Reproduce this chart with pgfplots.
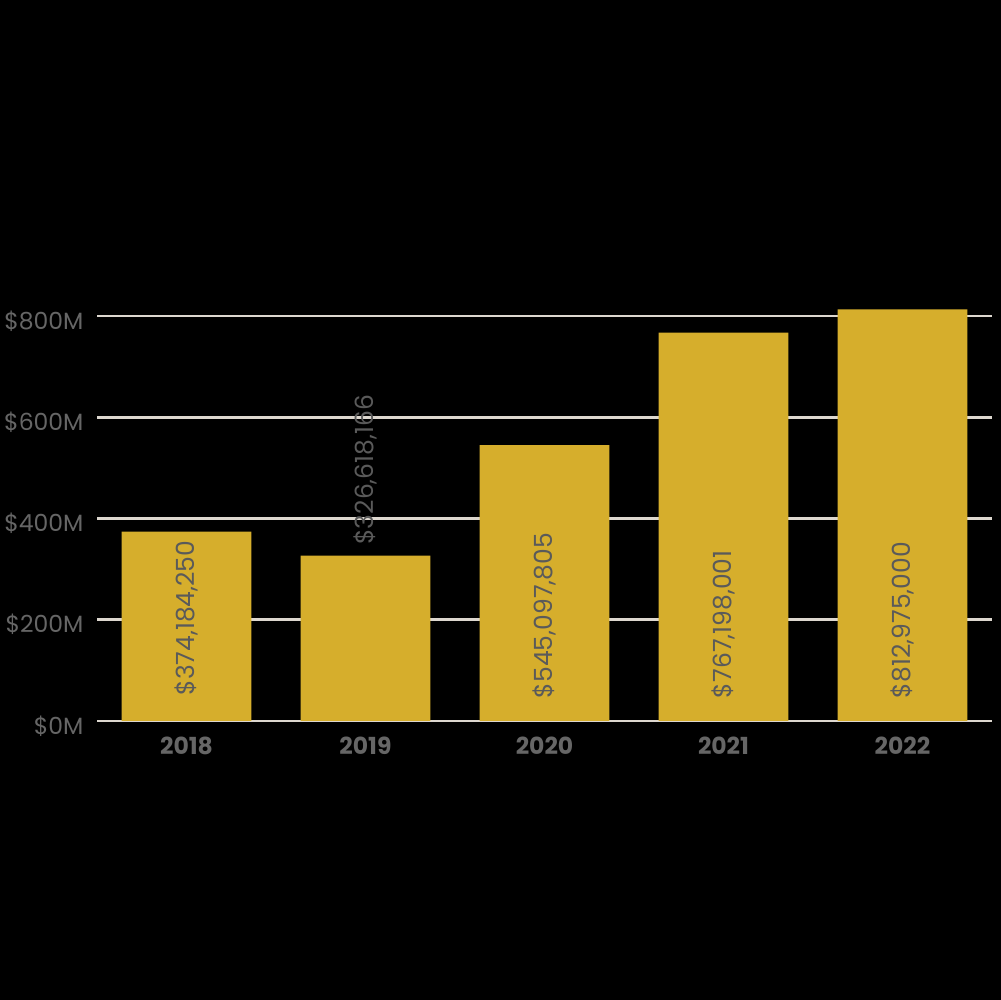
\documentclass[border=0pt]{standalone}
\usepackage{fontspec}
\setmainfont{Poppins}
\usepackage{pgfplots}
\pgfplotsset{compat=1.18}
\definecolor{gold}{HTML}{D6AE2C}
\definecolor{gridc}{HTML}{DDD7CF}
\definecolor{lbl}{HTML}{666666}
\definecolor{barlbl}{HTML}{5A5A5A}
\begin{document}
\begin{tikzpicture}[x=1pt,y=1pt]
\fill[black] (0,0) rectangle (1001,1000);
\useasboundingbox (0,0) rectangle (1001,1000);
\begin{axis}[at={(97pt,279pt)}, anchor=south west, scale only axis,
  width=895pt, height=405pt,
  xmin=-0.5, xmax=4.5, ymin=0, ymax=800, clip=false,
  axis line style={draw=none}, tick style={draw=none},
  ytick={0,200,400,600,800},
  yticklabel={\$\pgfmathprintnumber{\tick}M},
  /pgf/number format/assume math mode=true,
  ymajorgrids, grid style={gridc, line width=2.6pt},
  xtick={0,1,2,3,4}, xticklabels={2018,2019,2020,2021,2022},
  yticklabel style={font=\fontsize{23.5}{26}\selectfont, color=lbl, xshift=-10pt, yshift=-5pt},
  xticklabel style={font=\fontsize{23.5}{26}\selectfont\bfseries, color=lbl, yshift=-12pt},
]
\addplot[ybar, bar width=0.726, fill=gold, draw=none] coordinates {(0,374.184)(1,326.618)(2,545.098)(3,767.198)(4,812.975)};
\begin{scope}[every node/.style={rotate=90, anchor=west, inner sep=0pt, font=\fontsize{25}{28}\selectfont, text=barlbl}]
\node at (axis cs:0,50) {\$374,184,250};
\node at (axis cs:1,348) {\$326,618,166};
\node at (axis cs:2,45) {\$545,097,805};
\node at (axis cs:3,45) {\$767,198,001};
\node at (axis cs:4,45) {\$812,975,000};
\end{scope}
\end{axis}
\end{tikzpicture}
\end{document}
